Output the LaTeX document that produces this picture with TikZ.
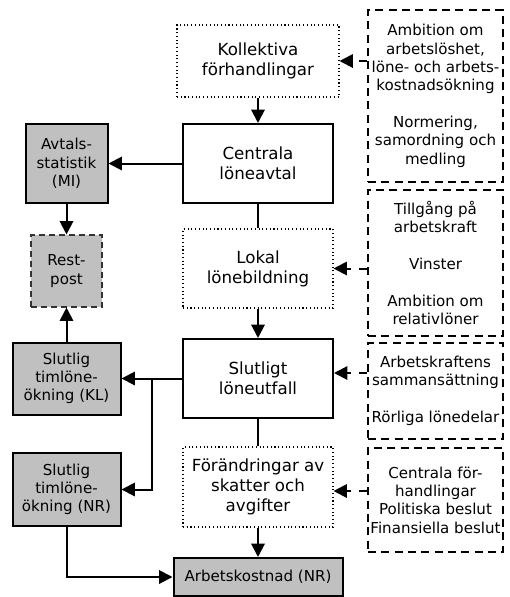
\documentclass[tikz,border=0pt]{standalone}
\usepackage{fontspec}
\setmainfont{DejaVu Sans}
\usetikzlibrary{arrows.meta}
\definecolor{boxgray}{RGB}{192,192,192}

\begin{document}
\begin{tikzpicture}[x=0.75pt,y=-0.75pt,
	mainbox/.style={draw, line width=1.5pt, align=center, inner sep=0pt, minimum width=112.5pt, minimum height=59.25pt, font=\fontsize{12.5}{15}\selectfont},
	dotbox/.style={mainbox, line width=0.8pt, dotted},
	graybox/.style={draw, line width=1.5pt, fill=boxgray, align=center, inner sep=0pt, minimum width=81pt, minimum height=54pt, font=\fontsize{11.3}{13.75}\selectfont},
	factbox/.style={draw, line width=1.5pt, dash pattern=on 6pt off 4pt, align=center, inner sep=0pt, minimum width=101.25pt, font=\fontsize{11.3}{13.75}\selectfont},
	flow/.style={line width=1.5pt, -{Triangle[length=10pt,width=10pt]}},
	plain/.style={line width=1.5pt},
	infl/.style={flow, dash pattern=on 6pt off 6pt}]
	\useasboundingbox (0,0) rectangle (510,597);

	% mittkolumnen
	\node[dotbox, minimum width=121.5pt, minimum height=54pt] (kollektiva) at (258,61) {Kollektiva\\förhandlingar};
	\node[mainbox] (centrala) at (258,163.5) {Centrala\\löneavtal};
	\node[dotbox] (lokal) at (258,268.5) {Lokal\\lönebildning};
	\node[mainbox] (slutligt) at (258,378.5) {Slutligt\\löneutfall};
	\node[dotbox, minimum height=60pt] (forandr) at (258,487) {Förändringar av\\skatter och\\avgifter};
	\node[graybox, minimum width=126.75pt, minimum height=28.5pt] (arbkost) at (258,577) {Arbetskostnad (NR)};

	% statistiken till vänster
	\node[graybox, minimum width=61.5pt, minimum height=59.25pt] (avtals) at (66.5,163.5) {Avtals-\\statistik\\(MI)};
	\node[graybox, minimum width=53.25pt, line width=0.8pt, dash pattern=on 4.5pt off 3pt, draw=black!80] (rest) at (66.5,271) {Rest-\\post};
	\node[graybox] (kl) at (66.5,378.5) {Slutlig\\timlöne-\\ökning (KL)};
	\node[graybox, minimum height=54.75pt] (nr) at (66.5,489.5) {Slutlig\\timlöne-\\ökning (NR)};

	% faktorer till höger
	\node[factbox, minimum height=129pt] (amb) at (435.5,96) {Ambition om\\arbetslöshet,\\löne- och arbets-\\kostnadsökning\\[13.75pt]Normering,\\samordning och\\medling};
	\node[factbox, minimum height=109.5pt] (tillg) at (435.5,263) {Tillgång på\\arbetskraft\\[13.75pt]Vinster\\[13.75pt]Ambition om\\relativlöner};
	\node[factbox, minimum height=72pt] (sammans) at (435.5,391) {Arbetskraftens\\sammansättning\\[13.75pt]Rörliga lönedelar};
	\node[factbox, minimum height=78pt] (beslut) at (435.5,500) {Centrala för-\\handlingar\\Politiska beslut\\Finansiella beslut};

	\draw[flow] (kollektiva) -- (centrala);
	\draw[plain] (centrala) -- (lokal);
	\draw[flow] (lokal) -- (slutligt);
	\draw[plain] (slutligt) -- (forandr);
	\draw[flow] (forandr) -- (arbkost);

	\draw[flow] (centrala) -- (avtals);
	\draw[flow] (avtals) -- (rest);
	\draw[flow] (kl) -- (rest);
	\draw[flow] (slutligt) -- (kl);
	\coordinate (split) at (152,378.5);
	\draw[flow] (split) |- (nr);
	\draw[flow] (nr) |- (arbkost);

	\draw[infl] (amb.west |- kollektiva) -- (kollektiva);
	\draw[infl] (tillg.west |- lokal) -- (lokal);
	\draw[infl] (sammans.west |- 0,373) -- (slutligt.east |- 0,373);
	\draw[infl] (beslut.west |- 0,491) -- (forandr.east |- 0,491);
\end{tikzpicture}
\end{document}
